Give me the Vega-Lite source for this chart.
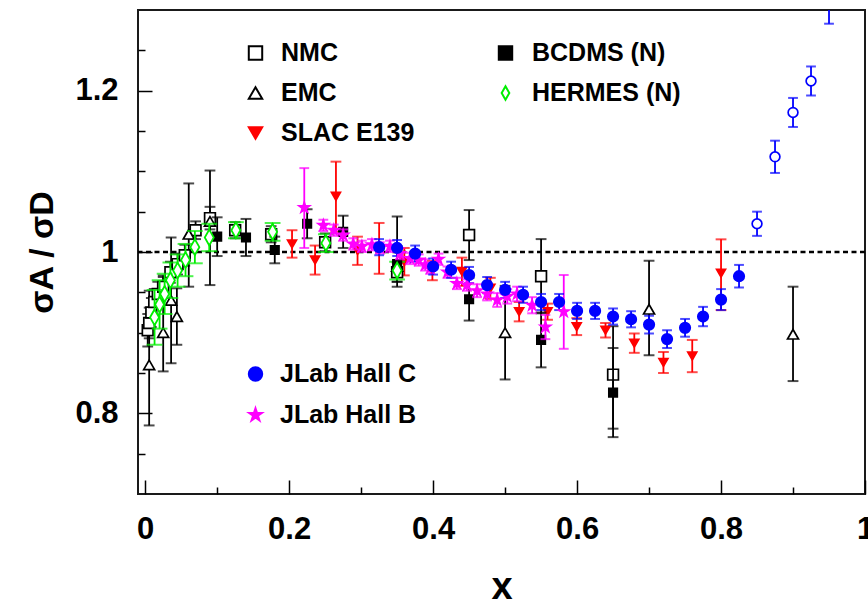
{
  "$schema": "https://vega.github.io/schema/vega-lite/v6.json",
  "width": 727,
  "height": 484,
  "autosize": {"type": "none"},
  "padding": {"left": 138, "top": 10, "right": 3, "bottom": 112},
  "background": "white",
  "config": {
    "font": "Liberation Sans",
    "view": {"stroke": "#1a1a1a", "strokeWidth": 2},
    "axis": {"labelFont": "Liberation Sans", "labelFontWeight": "bold", "labelFontSize": 31, "labelColor": "black", "titleFont": "Liberation Sans", "titleFontWeight": "bold", "titleColor": "black", "grid": false, "domain": false, "tickColor": "black", "tickWidth": 1.5, "labelFlush": false, "labelOverlap": false, "labelBound": false},
    "legend": {"symbolOpacity": 1}
  },
  "datasets": {
    "g1": [
      {"series": "NMC", "x": 0.0035, "y": 0.903, "lo": 0.883, "hi": 0.923},
      {"series": "NMC", "x": 0.0055, "y": 0.912, "lo": 0.893, "hi": 0.931},
      {"series": "NMC", "x": 0.0085, "y": 0.925, "lo": 0.907, "hi": 0.943},
      {"series": "NMC", "x": 0.0125, "y": 0.938, "lo": 0.922, "hi": 0.954},
      {"series": "NMC", "x": 0.0175, "y": 0.948, "lo": 0.933, "hi": 0.963},
      {"series": "NMC", "x": 0.025, "y": 0.957, "lo": 0.943, "hi": 0.971},
      {"series": "NMC", "x": 0.035, "y": 0.975, "lo": 0.962, "hi": 0.988},
      {"series": "NMC", "x": 0.045, "y": 0.985, "lo": 0.972, "hi": 0.998},
      {"series": "NMC", "x": 0.055, "y": 0.996, "lo": 0.983, "hi": 1.009},
      {"series": "NMC", "x": 0.07, "y": 1.027, "lo": 1.016, "hi": 1.038},
      {"series": "NMC", "x": 0.09, "y": 1.042, "lo": 1.028, "hi": 1.056},
      {"series": "NMC", "x": 0.125, "y": 1.027, "lo": 1.017, "hi": 1.037},
      {"series": "NMC", "x": 0.175, "y": 1.022, "lo": 1.012, "hi": 1.032},
      {"series": "NMC", "x": 0.25, "y": 1.012, "lo": 1.001, "hi": 1.023},
      {"series": "NMC", "x": 0.35, "y": 0.975, "lo": 0.963, "hi": 0.987},
      {"series": "NMC", "x": 0.45, "y": 1.021, "lo": 0.99, "hi": 1.052},
      {"series": "NMC", "x": 0.55, "y": 0.97, "lo": 0.924, "hi": 1.016},
      {"series": "NMC", "x": 0.65, "y": 0.848, "lo": 0.781, "hi": 0.908},
      {"series": "EMC", "x": 0.0055, "y": 0.86, "lo": 0.785, "hi": 0.952},
      {"series": "EMC", "x": 0.025, "y": 0.9, "lo": 0.852, "hi": 0.969},
      {"series": "EMC", "x": 0.036, "y": 0.94, "lo": 0.862, "hi": 1.018},
      {"series": "EMC", "x": 0.044, "y": 0.92, "lo": 0.885, "hi": 0.955},
      {"series": "EMC", "x": 0.0605, "y": 1.022, "lo": 0.957, "hi": 1.085},
      {"series": "EMC", "x": 0.09, "y": 1.038, "lo": 0.959, "hi": 1.101},
      {"series": "EMC", "x": 0.35, "y": 0.982, "lo": 0.957, "hi": 1.044},
      {"series": "EMC", "x": 0.5, "y": 0.9, "lo": 0.842, "hi": 0.958},
      {"series": "EMC", "x": 0.7, "y": 0.929, "lo": 0.872, "hi": 0.989},
      {"series": "EMC", "x": 0.9, "y": 0.898, "lo": 0.84, "hi": 0.957},
      {"series": "SLAC E139", "x": 0.204, "y": 1.01, "lo": 0.993, "hi": 1.027},
      {"series": "SLAC E139", "x": 0.236, "y": 0.99, "lo": 0.972, "hi": 1.008},
      {"series": "SLAC E139", "x": 0.265, "y": 1.069, "lo": 1.025, "hi": 1.112},
      {"series": "SLAC E139", "x": 0.295, "y": 1.002, "lo": 0.984, "hi": 1.019},
      {"series": "SLAC E139", "x": 0.325, "y": 1.004, "lo": 0.973, "hi": 1.036},
      {"series": "SLAC E139", "x": 0.36, "y": 0.988, "lo": 0.971, "hi": 1.005},
      {"series": "SLAC E139", "x": 0.399, "y": 0.977, "lo": 0.965, "hi": 0.989},
      {"series": "SLAC E139", "x": 0.44, "y": 0.976, "lo": 0.958, "hi": 0.993},
      {"series": "SLAC E139", "x": 0.4795, "y": 0.955, "lo": 0.942, "hi": 0.968},
      {"series": "SLAC E139", "x": 0.5195, "y": 0.926, "lo": 0.914, "hi": 0.938},
      {"series": "SLAC E139", "x": 0.559, "y": 0.926, "lo": 0.916, "hi": 0.936},
      {"series": "SLAC E139", "x": 0.5995, "y": 0.9075, "lo": 0.897, "hi": 0.918},
      {"series": "SLAC E139", "x": 0.6395, "y": 0.903, "lo": 0.894, "hi": 0.912},
      {"series": "SLAC E139", "x": 0.6795, "y": 0.887, "lo": 0.875, "hi": 0.899},
      {"series": "SLAC E139", "x": 0.72, "y": 0.863, "lo": 0.85, "hi": 0.876},
      {"series": "SLAC E139", "x": 0.76, "y": 0.871, "lo": 0.851, "hi": 0.891},
      {"series": "SLAC E139", "x": 0.8, "y": 0.9736, "lo": 0.928, "hi": 1.0157}
    ],
    "g2": [
      {"series": "BCDMS (N)", "x": 0.1, "y": 1.019, "lo": 0.995, "hi": 1.043},
      {"series": "BCDMS (N)", "x": 0.14, "y": 1.018, "lo": 0.995, "hi": 1.041},
      {"series": "BCDMS (N)", "x": 0.18, "y": 1.0025, "lo": 0.986, "hi": 1.019},
      {"series": "BCDMS (N)", "x": 0.225, "y": 1.035, "lo": 1.017, "hi": 1.053},
      {"series": "BCDMS (N)", "x": 0.275, "y": 1.025, "lo": 1.005, "hi": 1.045},
      {"series": "BCDMS (N)", "x": 0.35, "y": 0.985, "lo": 0.963, "hi": 1.007},
      {"series": "BCDMS (N)", "x": 0.45, "y": 0.9414, "lo": 0.915, "hi": 0.968},
      {"series": "BCDMS (N)", "x": 0.55, "y": 0.891, "lo": 0.857, "hi": 0.925},
      {"series": "BCDMS (N)", "x": 0.65, "y": 0.8257, "lo": 0.7705, "hi": 0.881},
      {"series": "HERMES (N)", "x": 0.013, "y": 0.919, "lo": 0.885, "hi": 0.953},
      {"series": "HERMES (N)", "x": 0.02, "y": 0.935, "lo": 0.905, "hi": 0.965},
      {"series": "HERMES (N)", "x": 0.027, "y": 0.948, "lo": 0.923, "hi": 0.973},
      {"series": "HERMES (N)", "x": 0.035, "y": 0.965, "lo": 0.943, "hi": 0.987},
      {"series": "HERMES (N)", "x": 0.045, "y": 0.977, "lo": 0.957, "hi": 0.997},
      {"series": "HERMES (N)", "x": 0.056, "y": 0.99, "lo": 0.97, "hi": 1.01},
      {"series": "HERMES (N)", "x": 0.069, "y": 1.006, "lo": 0.986, "hi": 1.026},
      {"series": "HERMES (N)", "x": 0.089, "y": 1.018, "lo": 1.001, "hi": 1.035},
      {"series": "HERMES (N)", "x": 0.126, "y": 1.027, "lo": 1.017, "hi": 1.037},
      {"series": "HERMES (N)", "x": 0.177, "y": 1.025, "lo": 1.014, "hi": 1.036},
      {"series": "HERMES (N)", "x": 0.251, "y": 1.011, "lo": 1.0, "hi": 1.022},
      {"series": "HERMES (N)", "x": 0.35, "y": 0.977, "lo": 0.966, "hi": 0.988}
    ],
    "g3": [
      {"series": "JLab Hall B", "x": 0.221, "y": 1.055, "lo": 1.005, "hi": 1.104},
      {"series": "JLab Hall B", "x": 0.2475, "y": 1.033, "lo": 1.026, "hi": 1.04},
      {"series": "JLab Hall B", "x": 0.262, "y": 1.027, "lo": 1.02, "hi": 1.034},
      {"series": "JLab Hall B", "x": 0.275, "y": 1.021, "lo": 1.014, "hi": 1.028},
      {"series": "JLab Hall B", "x": 0.289, "y": 1.01, "lo": 1.003, "hi": 1.017},
      {"series": "JLab Hall B", "x": 0.301, "y": 1.007, "lo": 1.0, "hi": 1.014},
      {"series": "JLab Hall B", "x": 0.315, "y": 1.009, "lo": 1.002, "hi": 1.016},
      {"series": "JLab Hall B", "x": 0.326, "y": 1.005, "lo": 0.998, "hi": 1.012},
      {"series": "JLab Hall B", "x": 0.34, "y": 1.007, "lo": 1.0, "hi": 1.014},
      {"series": "JLab Hall B", "x": 0.354, "y": 0.998, "lo": 0.991, "hi": 1.005},
      {"series": "JLab Hall B", "x": 0.368, "y": 0.992, "lo": 0.985, "hi": 0.999},
      {"series": "JLab Hall B", "x": 0.38, "y": 0.99, "lo": 0.983, "hi": 0.997},
      {"series": "JLab Hall B", "x": 0.389, "y": 0.984, "lo": 0.977, "hi": 0.991},
      {"series": "JLab Hall B", "x": 0.396, "y": 0.98, "lo": 0.973, "hi": 0.987},
      {"series": "JLab Hall B", "x": 0.4075, "y": 0.991, "lo": 0.984, "hi": 0.998},
      {"series": "JLab Hall B", "x": 0.42, "y": 0.975, "lo": 0.968, "hi": 0.982},
      {"series": "JLab Hall B", "x": 0.433, "y": 0.961, "lo": 0.954, "hi": 0.968},
      {"series": "JLab Hall B", "x": 0.447, "y": 0.959, "lo": 0.952, "hi": 0.966},
      {"series": "JLab Hall B", "x": 0.461, "y": 0.952, "lo": 0.944, "hi": 0.96},
      {"series": "JLab Hall B", "x": 0.475, "y": 0.948, "lo": 0.94, "hi": 0.956},
      {"series": "JLab Hall B", "x": 0.489, "y": 0.9405, "lo": 0.932, "hi": 0.949},
      {"series": "JLab Hall B", "x": 0.503, "y": 0.945, "lo": 0.936, "hi": 0.954},
      {"series": "JLab Hall B", "x": 0.5166, "y": 0.948, "lo": 0.939, "hi": 0.957},
      {"series": "JLab Hall B", "x": 0.5375, "y": 0.934, "lo": 0.924, "hi": 0.944},
      {"series": "JLab Hall B", "x": 0.556, "y": 0.907, "lo": 0.892, "hi": 0.922},
      {"series": "JLab Hall B", "x": 0.5815, "y": 0.926, "lo": 0.88, "hi": 0.9715},
      {"series": "JLab Hall C", "x": 0.325, "y": 1.006, "lo": 0.996, "hi": 1.016},
      {"series": "JLab Hall C", "x": 0.35, "y": 1.005, "lo": 0.995, "hi": 1.015},
      {"series": "JLab Hall C", "x": 0.375, "y": 0.998, "lo": 0.988, "hi": 1.008},
      {"series": "JLab Hall C", "x": 0.4, "y": 0.982, "lo": 0.972, "hi": 0.992},
      {"series": "JLab Hall C", "x": 0.425, "y": 0.978, "lo": 0.968, "hi": 0.988},
      {"series": "JLab Hall C", "x": 0.45, "y": 0.9715, "lo": 0.9615, "hi": 0.9815},
      {"series": "JLab Hall C", "x": 0.475, "y": 0.959, "lo": 0.949, "hi": 0.969},
      {"series": "JLab Hall C", "x": 0.5, "y": 0.953, "lo": 0.943, "hi": 0.963},
      {"series": "JLab Hall C", "x": 0.525, "y": 0.947, "lo": 0.937, "hi": 0.957},
      {"series": "JLab Hall C", "x": 0.55, "y": 0.938, "lo": 0.928, "hi": 0.948},
      {"series": "JLab Hall C", "x": 0.575, "y": 0.938, "lo": 0.928, "hi": 0.948},
      {"series": "JLab Hall C", "x": 0.6, "y": 0.927, "lo": 0.917, "hi": 0.937},
      {"series": "JLab Hall C", "x": 0.625, "y": 0.927, "lo": 0.917, "hi": 0.937},
      {"series": "JLab Hall C", "x": 0.65, "y": 0.92, "lo": 0.91, "hi": 0.93},
      {"series": "JLab Hall C", "x": 0.675, "y": 0.9166, "lo": 0.9066, "hi": 0.9266},
      {"series": "JLab Hall C", "x": 0.7, "y": 0.91, "lo": 0.899, "hi": 0.921},
      {"series": "JLab Hall C", "x": 0.725, "y": 0.892, "lo": 0.881, "hi": 0.903},
      {"series": "JLab Hall C", "x": 0.75, "y": 0.906, "lo": 0.895, "hi": 0.917},
      {"series": "JLab Hall C", "x": 0.775, "y": 0.92, "lo": 0.908, "hi": 0.932},
      {"series": "JLab Hall C", "x": 0.8, "y": 0.941, "lo": 0.928, "hi": 0.954},
      {"series": "JLab Hall C", "x": 0.825, "y": 0.97, "lo": 0.956, "hi": 0.984},
      {"series": "JLab Hall C high x", "x": 0.85, "y": 1.035, "lo": 1.02, "hi": 1.05},
      {"series": "JLab Hall C high x", "x": 0.875, "y": 1.118, "lo": 1.098, "hi": 1.138},
      {"series": "JLab Hall C high x", "x": 0.9, "y": 1.173, "lo": 1.155, "hi": 1.191},
      {"series": "JLab Hall C high x", "x": 0.925, "y": 1.212, "lo": 1.194, "hi": 1.23},
      {"series": "JLab Hall C high x", "x": 0.95, "y": 1.31, "lo": 1.283, "hi": 1.337}
    ]
  },
  "layer": [
    {
      "data": {"values": [{}]},
      "mark": {"type": "rule", "strokeDash": [5, 3.5], "strokeWidth": 2.5, "color": "black"},
      "encoding": {"y": {"datum": 1, "type": "quantitative", "scale": {"domain": [0.7, 1.3], "nice": false, "zero": false}, "axis": null}}
    },
    {
      "data": {"name": "g1"},
      "encoding": {
        "x": {"field": "x", "type": "quantitative", "scale": {"domain": [-0.01, 1], "nice": false, "zero": false},
          "axis": {"orient": "bottom", "values": [0, 0.2, 0.4, 0.6, 0.8, 1], "format": "~g", "offset": -14, "tickSize": 14, "labelPadding": 20,
            "title": "x", "titleFontSize": 38, "titleX": 363.5, "titleY": 118, "titleBaseline": "alphabetic", "titleAlign": "center", "titleAngle": 0}}
      },
      "layer": [
        {"mark": {"type": "rule", "strokeWidth": 1.8, "clip": true},
          "encoding": {
            "y": {"field": "lo", "type": "quantitative", "scale": {"domain": [0.7, 1.3], "nice": false, "zero": false},
              "axis": {"orient": "left", "values": [0.8, 1, 1.2], "format": "~g", "offset": -14, "tickSize": 14, "labelPadding": 20, "title": "σA / σD", "titleFontSize": 34, "titleX": -100, "titleY": 242, "titleAngle": 270, "titleAlign": "center", "titleBaseline": "alphabetic"}},
            "y2": {"field": "hi"},
            "stroke": {"field": "series", "type": "nominal", "scale": {"domain": ["SLAC E139", "NMC", "EMC"], "range": ["red", "black", "black"]}, "legend": null}
          }},
        {"mark": {"type": "tick", "orient": "horizontal", "thickness": 0.2, "filled": false, "strokeWidth": 1.8, "clip": true},
          "encoding": {
            "y": {"field": "lo", "type": "quantitative", "scale": {"domain": [0.7, 1.3], "nice": false, "zero": false},
              "axis": {"orient": "left", "values": [0.8, 1, 1.2], "format": "~g", "offset": -14, "tickSize": 14, "labelPadding": 20, "title": "σA / σD", "titleFontSize": 34, "titleX": -100, "titleY": 242, "titleAngle": 270, "titleAlign": "center", "titleBaseline": "alphabetic"}},
            "size": {"value": 9},
            "stroke": {"field": "series", "type": "nominal", "scale": {"domain": ["SLAC E139", "NMC", "EMC"], "range": ["red", "black", "black"]}, "legend": null}
          }},
        {"mark": {"type": "tick", "orient": "horizontal", "thickness": 0.2, "filled": false, "strokeWidth": 1.8, "clip": true},
          "encoding": {
            "y": {"field": "hi", "type": "quantitative", "scale": {"domain": [0.7, 1.3], "nice": false, "zero": false},
              "axis": {"orient": "left", "values": [0.8, 1, 1.2], "format": "~g", "offset": -14, "tickSize": 14, "labelPadding": 20, "title": "σA / σD", "titleFontSize": 34, "titleX": -100, "titleY": 242, "titleAngle": 270, "titleAlign": "center", "titleBaseline": "alphabetic"}},
            "size": {"value": 9},
            "stroke": {"field": "series", "type": "nominal", "scale": {"domain": ["SLAC E139", "NMC", "EMC"], "range": ["red", "black", "black"]}, "legend": null}
          }},
        {"mark": {"type": "point", "filled": false, "opacity": 1, "strokeWidth": 1.7, "clip": true},
          "encoding": {
            "y": {"field": "y", "type": "quantitative", "scale": {"domain": [0.7, 1.3], "nice": false, "zero": false},
              "axis": {"orient": "left", "values": [0.8, 1, 1.2], "format": "~g", "offset": -14, "tickSize": 14, "labelPadding": 20, "title": "σA / σD", "titleFontSize": 34, "titleX": -100, "titleY": 242, "titleAngle": 270, "titleAlign": "center", "titleBaseline": "alphabetic"}},
            "color": {"field": "series", "type": "nominal", "scale": {"domain": ["NMC", "EMC", "SLAC E139"], "range": ["black", "black", "red"]},
              "legend": {"orient": "none", "legendX": 105, "legendY": 30.5, "title": null, "padding": 0, "labelFont": "Liberation Sans", "labelFontSize": 25, "labelFontWeight": "bold", "labelColor": "black", "labelOffset": 13, "labelLimit": 300, "rowPadding": 14, "symbolSize": 180, "symbolStrokeWidth": 2, "symbolFillColor": "white", "symbolOpacity": 1, "direction": "vertical"}},
            "shape": {"field": "series", "type": "nominal", "scale": {"domain": ["NMC", "EMC", "SLAC E139"], "range": ["square", "triangle-up", "triangle-down"]},
              "legend": {"orient": "none", "legendX": 105, "legendY": 30.5, "title": null, "padding": 0, "labelFont": "Liberation Sans", "labelFontSize": 25, "labelFontWeight": "bold", "labelColor": "black", "labelOffset": 13, "labelLimit": 300, "rowPadding": 14, "symbolSize": 180, "symbolStrokeWidth": 2, "symbolFillColor": "white", "symbolOpacity": 1, "direction": "vertical"}},
            "fill": {"field": "series", "type": "nominal", "scale": {"domain": ["NMC", "EMC", "SLAC E139"], "range": ["white", "white", "red"]},
              "legend": {"orient": "none", "legendX": 105, "legendY": 30.5, "title": null, "padding": 0, "labelFont": "Liberation Sans", "labelFontSize": 25, "labelFontWeight": "bold", "labelColor": "black", "labelOffset": 13, "labelLimit": 300, "rowPadding": 14, "symbolSize": 180, "symbolStrokeWidth": 2, "symbolFillColor": "white", "symbolOpacity": 1, "direction": "vertical"}},
            "size": {"condition": [{"test": "datum.series === 'SLAC E139'", "value": 80}, {"test": "datum.series === 'EMC'", "value": 120}], "value": 115}
          }}
      ]
    },
    {
      "data": {"name": "g2"},
      "encoding": {
        "x": {"field": "x", "type": "quantitative", "scale": {"domain": [-0.01, 1], "nice": false, "zero": false},
          "axis": {"orient": "bottom", "values": [0.1, 0.3, 0.5, 0.7, 0.9], "offset": -7, "tickSize": 7, "labels": false, "title": null}}
      },
      "layer": [
        {"mark": {"type": "rule", "strokeWidth": 1.8, "clip": true},
          "encoding": {
            "y": {"field": "lo", "type": "quantitative", "scale": {"domain": [0.7, 1.3], "nice": false, "zero": false},
              "axis": {"orient": "left", "values": [0.75, 0.85, 0.9, 0.95, 1.05, 1.1, 1.15, 1.25], "offset": -7, "tickSize": 7, "labels": false, "title": null}},
            "y2": {"field": "hi"},
            "stroke": {"field": "series", "type": "nominal", "scale": {"domain": ["HERMES (N)", "BCDMS (N)"], "range": ["#00ee00", "black"]}, "legend": null}
          }},
        {"mark": {"type": "tick", "orient": "horizontal", "thickness": 0.2, "filled": false, "strokeWidth": 1.8, "clip": true},
          "encoding": {
            "y": {"field": "lo", "type": "quantitative", "scale": {"domain": [0.7, 1.3], "nice": false, "zero": false},
              "axis": {"orient": "left", "values": [0.75, 0.85, 0.9, 0.95, 1.05, 1.1, 1.15, 1.25], "offset": -7, "tickSize": 7, "labels": false, "title": null}},
            "size": {"condition": {"test": "datum.series === 'HERMES (N)'", "value": 14}, "value": 9},
            "stroke": {"field": "series", "type": "nominal", "scale": {"domain": ["HERMES (N)", "BCDMS (N)"], "range": ["#00ee00", "black"]}, "legend": null}
          }},
        {"mark": {"type": "tick", "orient": "horizontal", "thickness": 0.2, "filled": false, "strokeWidth": 1.8, "clip": true},
          "encoding": {
            "y": {"field": "hi", "type": "quantitative", "scale": {"domain": [0.7, 1.3], "nice": false, "zero": false},
              "axis": {"orient": "left", "values": [0.75, 0.85, 0.9, 0.95, 1.05, 1.1, 1.15, 1.25], "offset": -7, "tickSize": 7, "labels": false, "title": null}},
            "size": {"condition": {"test": "datum.series === 'HERMES (N)'", "value": 14}, "value": 9},
            "stroke": {"field": "series", "type": "nominal", "scale": {"domain": ["HERMES (N)", "BCDMS (N)"], "range": ["#00ee00", "black"]}, "legend": null}
          }},
        {"mark": {"type": "point", "filled": false, "opacity": 1, "strokeWidth": 1.8, "clip": true},
          "encoding": {
            "y": {"field": "y", "type": "quantitative", "scale": {"domain": [0.7, 1.3], "nice": false, "zero": false},
              "axis": {"orient": "left", "values": [0.75, 0.85, 0.9, 0.95, 1.05, 1.1, 1.15, 1.25], "offset": -7, "tickSize": 7, "labels": false, "title": null}},
            "color": {"field": "series", "type": "nominal", "scale": {"domain": ["BCDMS (N)", "HERMES (N)"], "range": ["black", "#00ee00"]},
              "legend": {"orient": "none", "legendX": 355, "legendY": 30.5, "title": null, "padding": 0, "labelFont": "Liberation Sans", "labelFontSize": 25, "labelFontWeight": "bold", "labelColor": "black", "labelOffset": 14, "labelLimit": 300, "rowPadding": 14, "symbolSize": 180, "symbolStrokeWidth": 2, "symbolFillColor": "white", "symbolOpacity": 1, "direction": "vertical"}},
            "shape": {"field": "series", "type": "nominal", "scale": {"domain": ["BCDMS (N)", "HERMES (N)"], "range": ["square", "M0,-1L0.57,0L0,1L-0.57,0Z"]},
              "legend": {"orient": "none", "legendX": 355, "legendY": 30.5, "title": null, "padding": 0, "labelFont": "Liberation Sans", "labelFontSize": 25, "labelFontWeight": "bold", "labelColor": "black", "labelOffset": 14, "labelLimit": 300, "rowPadding": 14, "symbolSize": 180, "symbolStrokeWidth": 2, "symbolFillColor": "white", "symbolOpacity": 1, "direction": "vertical"}},
            "fill": {"field": "series", "type": "nominal", "scale": {"domain": ["BCDMS (N)", "HERMES (N)"], "range": ["black", "white"]},
              "legend": {"orient": "none", "legendX": 355, "legendY": 30.5, "title": null, "padding": 0, "labelFont": "Liberation Sans", "labelFontSize": 25, "labelFontWeight": "bold", "labelColor": "black", "labelOffset": 14, "labelLimit": 300, "rowPadding": 14, "symbolSize": 180, "symbolStrokeWidth": 2, "symbolFillColor": "white", "symbolOpacity": 1, "direction": "vertical"}},
            "size": {"condition": {"test": "datum.series === 'HERMES (N)'", "value": 250}, "value": 70}
          }}
      ]
    },
    {
      "data": {"name": "g3"},
      "encoding": {
        "x": {"field": "x", "type": "quantitative", "scale": {"domain": [-0.01, 1], "nice": false, "zero": false}, "axis": null}
      },
      "layer": [
        {"mark": {"type": "rule", "strokeWidth": 1.8, "clip": true},
          "encoding": {
            "y": {"field": "lo", "type": "quantitative", "scale": {"domain": [0.7, 1.3], "nice": false, "zero": false}, "axis": null},
            "y2": {"field": "hi"},
            "stroke": {"field": "series", "type": "nominal", "scale": {"domain": ["JLab Hall B", "JLab Hall C", "JLab Hall C high x"], "range": ["magenta", "blue", "blue"]}, "legend": null}
          }},
        {"mark": {"type": "tick", "orient": "horizontal", "thickness": 0.2, "filled": false, "strokeWidth": 1.8, "clip": true},
          "encoding": {
            "y": {"field": "lo", "type": "quantitative", "scale": {"domain": [0.7, 1.3], "nice": false, "zero": false}, "axis": null},
            "size": {"value": 8},
            "stroke": {"field": "series", "type": "nominal", "scale": {"domain": ["JLab Hall B", "JLab Hall C", "JLab Hall C high x"], "range": ["magenta", "blue", "blue"]}, "legend": null}
          }},
        {"mark": {"type": "tick", "orient": "horizontal", "thickness": 0.2, "filled": false, "strokeWidth": 1.8, "clip": true},
          "encoding": {
            "y": {"field": "hi", "type": "quantitative", "scale": {"domain": [0.7, 1.3], "nice": false, "zero": false}, "axis": null},
            "size": {"value": 8},
            "stroke": {"field": "series", "type": "nominal", "scale": {"domain": ["JLab Hall B", "JLab Hall C", "JLab Hall C high x"], "range": ["magenta", "blue", "blue"]}, "legend": null}
          }},
        {"mark": {"type": "point", "filled": false, "opacity": 1, "strokeWidth": 1.7, "clip": true},
          "encoding": {
            "y": {"field": "y", "type": "quantitative", "scale": {"domain": [0.7, 1.3], "nice": false, "zero": false}, "axis": null},
            "color": {"field": "series", "type": "nominal", "scale": {"domain": ["JLab Hall C", "JLab Hall B", "JLab Hall C high x"], "range": ["blue", "magenta", "blue"]},
              "legend": {"orient": "none", "legendX": 105, "legendY": 351.5, "values": ["JLab Hall C", "JLab Hall B"], "title": null, "padding": 0, "labelFont": "Liberation Sans", "labelFontSize": 25, "labelFontWeight": "bold", "labelColor": "black", "labelOffset": 12, "labelLimit": 300, "rowPadding": 15, "symbolSize": 180, "symbolStrokeWidth": 2, "symbolFillColor": "white", "symbolOpacity": 1, "direction": "vertical"}},
            "shape": {"field": "series", "type": "nominal", "scale": {"domain": ["JLab Hall C", "JLab Hall B", "JLab Hall C high x"], "range": ["circle", "M0,-1L0.2245,-0.309L0.951,-0.309L0.3633,0.118L0.588,0.809L0,0.382L-0.588,0.809L-0.3633,0.118L-0.951,-0.309L-0.2245,-0.309Z", "circle"]},
              "legend": {"orient": "none", "legendX": 105, "legendY": 351.5, "values": ["JLab Hall C", "JLab Hall B"], "title": null, "padding": 0, "labelFont": "Liberation Sans", "labelFontSize": 25, "labelFontWeight": "bold", "labelColor": "black", "labelOffset": 12, "labelLimit": 300, "rowPadding": 15, "symbolSize": 180, "symbolStrokeWidth": 2, "symbolFillColor": "white", "symbolOpacity": 1, "direction": "vertical"}},
            "fill": {"field": "series", "type": "nominal", "scale": {"domain": ["JLab Hall C", "JLab Hall B", "JLab Hall C high x"], "range": ["blue", "magenta", "white"]},
              "legend": {"orient": "none", "legendX": 105, "legendY": 351.5, "values": ["JLab Hall C", "JLab Hall B"], "title": null, "padding": 0, "labelFont": "Liberation Sans", "labelFontSize": 25, "labelFontWeight": "bold", "labelColor": "black", "labelOffset": 12, "labelLimit": 300, "rowPadding": 15, "symbolSize": 180, "symbolStrokeWidth": 2, "symbolFillColor": "white", "symbolOpacity": 1, "direction": "vertical"}},
            "size": {"condition": [{"test": "datum.series === 'JLab Hall B'", "value": 120}, {"test": "datum.series === 'JLab Hall C high x'", "value": 95}], "value": 110}
          }}
      ]
    }
  ],
  "resolve": {"scale": {"color": "independent", "shape": "independent", "fill": "independent", "stroke": "independent"}, "axis": {"x": "independent", "y": "independent"}}
}
